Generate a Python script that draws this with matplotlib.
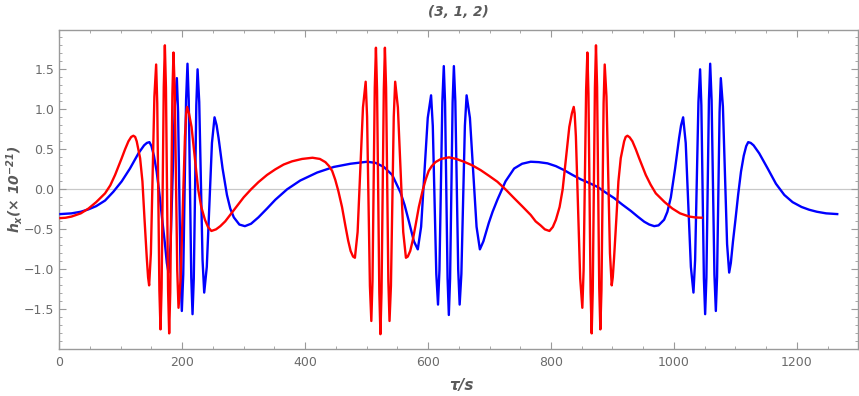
import matplotlib
matplotlib.use("Agg")
import matplotlib.pyplot as plt
from matplotlib.ticker import MultipleLocator, FuncFormatter

# ---------------- data ----------------
red_t = [0, 10, 20, 35, 47.5, 60, 74.5, 83, 90.8, 101.6, 107, 112.5, 117, 120.6, 123.5, 126, 131.5, 135.3, 138.6,
         142.4, 144.5, 146.2, 149.05, 151.9, 154.75, 157.6, 159.4, 161.15, 162.9, 164.7,
         166.5, 168.25, 170.0, 171.8, 173.55, 175.3, 177.05, 178.8, 180.55, 182.3, 184.05,
         185.8, 187.85, 189.9, 191.95, 194, 197.5, 201, 204.5, 206.5, 208, 211, 215.2, 220.5, 226,
         231, 237, 242, 247.5, 255, 262, 270, 278, 290, 300, 312, 324, 338, 351.5, 365,
         378.7, 395, 412, 424, 433, 439, 444, 449, 454, 460, 465.6, 470, 474, 478,
         481, 485.4, 489.75, 494.1, 498.5, 500.8, 503.1, 505.4, 507.7, 509.6, 511.45, 513.3,
         515.2, 517.0, 518.85, 520.7, 522.5, 524.3, 526.15, 528.0, 529.8, 531.7, 533.55,
         535.4, 537.3, 539.6, 541.9, 544.2, 546.5, 550.9, 555.25, 559.6, 564,
         567, 571, 575, 579.4, 585, 591, 596, 601, 606, 612, 621, 634, 646, 658.4, 672,
         685.6, 699, 712.8, 726, 740, 753, 767, 775, 783, 790, 797.5, 803, 808, 814, 819,
         824.5, 829.8, 834, 837, 838.5, 840.5, 844, 847.5, 851, 853.05, 855.1, 857.15, 859.2,
         860.95, 862.7, 864.45, 866.2, 867.95, 869.7, 871.45, 873.2, 875.0, 876.75, 878.5,
         880.3, 882.1, 883.85, 885.6, 887.4, 890.25, 893.1, 895.95, 898.8, 900.5, 902.6,
         906.4, 909.7, 913.5, 919, 921.5, 924.4, 928, 932.5, 938, 943.4, 954.2, 962, 970.5, 985, 997.5, 1010,
         1025, 1036, 1047]
red_h = [-0.36, -0.355, -0.34, -0.30, -0.24, -0.16, -0.05, 0.05, 0.18, 0.39, 0.50, 0.60, 0.655, 0.67, 0.655, 0.60, 0.39, 0.10, -0.36,
         -0.86, -1.10, -1.20, -0.80, 0.18, 1.16, 1.56, 1.075, -0.095, -1.265, -1.75,
         -1.23, 0.025, 1.28, 1.80, 1.27, 0.0, -1.27, -1.80, -1.286, -0.045, 1.196,
         1.71, 1.243, 0.115, -1.013, -1.48, -1.112, -0.225, 0.662, 0.95, 1.03, 0.95, 0.78, 0.40, 0.0,
         -0.22, -0.38, -0.47, -0.52, -0.50, -0.46, -0.40, -0.32, -0.20, -0.10, 0.0, 0.09, 0.18, 0.25, 0.31,
         0.35, 0.38, 0.395, 0.38, 0.34, 0.29, 0.23, 0.12, -0.02, -0.22, -0.46, -0.64, -0.77, -0.84,
         -0.855, -0.533, 0.245, 1.023, 1.345, 0.907, -0.15, -1.207, -1.645, -1.145, 0.06, 1.27,
         1.77, 1.246, -0.02, -1.286, -1.81, -1.286, -0.02, 1.246, 1.77, 1.27, 0.06,
         -1.145, -1.645, -1.207, -0.15, 0.907, 1.345, 1.023, 0.245, -0.533, -0.855,
         -0.84, -0.77, -0.64, -0.46, -0.22, -0.02, 0.12, 0.23, 0.29, 0.34, 0.38, 0.40, 0.38, 0.345, 0.30,
         0.24, 0.17, 0.095, 0.0, -0.11, -0.21, -0.32, -0.40, -0.45, -0.50, -0.52, -0.47, -0.38, -0.22, 0.0,
         0.40, 0.78, 0.95, 1.03, 0.95, 0.662, -0.225, -1.112, -1.48, -1.013, 0.115, 1.243, 1.71,
         1.196, -0.045, -1.286, -1.80, -1.27, 0.0, 1.27, 1.80, 1.28, 0.025, -1.23,
         -1.75, -1.265, -0.095, 1.075, 1.56, 1.16, 0.18, -0.80, -1.20, -1.10, -0.86,
         -0.36, 0.10, 0.39, 0.60, 0.655, 0.67, 0.65, 0.60, 0.50, 0.39, 0.18, 0.06, -0.05, -0.16, -0.24, -0.30,
         -0.34, -0.352, -0.355]

blue_t = [0, 20, 35, 47.5, 60, 74.5, 88, 101.6, 115, 128.8, 138, 142.5, 146.7, 150, 154, 158.5, 163,
          167.5, 171.5, 175, 177.7, 181.1, 184.5, 187.9, 191.3, 193.3, 195.35, 197.4, 199.4,
          201.7, 204.0, 206.3, 208.6, 210.65, 212.7, 214.75, 216.8, 218.85, 220.9, 222.95, 225,
          227.7, 230.4, 233.1, 235.8, 240, 244.2, 248.4, 252.6, 256, 259.2, 265.7, 272.8, 278.2,
          284, 293, 302, 312, 324, 338, 351.5, 370.6, 392, 419.5, 446.6, 473.8, 501, 515, 528,
          541.7, 555.2, 562, 568.8, 577,
          583.3, 588.7, 594.1, 599.5, 604.9, 607.7, 610.55, 613.4, 616.2, 618.55, 620.9, 623.25,
          625.6, 627.65, 629.7, 631.75, 633.8, 635.85, 637.9, 639.95, 642.0, 644.35, 646.7,
          649.05, 651.4, 654.2, 657.05, 659.9, 662.7, 668.1, 673.5, 678.9, 684.3,
          690, 698.8, 705, 712.8, 726, 740, 753, 767, 780, 794.3, 808, 821.4, 835, 848.6, 862,
          875.8, 889, 902.9, 916, 930, 941, 951.8, 960, 968, 975, 984, 989.4, 995, 1001.9,
          1008.4, 1011.6, 1015.0, 1019.2, 1023.4, 1027.6, 1031.8, 1034.5, 1037.2, 1039.9, 1042.6,
          1044.65, 1046.7, 1048.75, 1050.8, 1052.85, 1054.9, 1056.95, 1059.0, 1061.3, 1063.6,
          1065.9, 1068.2, 1070.2, 1072.25, 1074.3, 1076.3, 1079.7, 1083.1, 1086.5, 1089.9,
          1092.6, 1096.1, 1100.1, 1104.6, 1109.1, 1113.6, 1117.6, 1120.9, 1125, 1129.6, 1138.8,
          1152.6, 1166, 1179.6, 1193.1, 1207.6, 1220.1, 1232.6, 1247.6, 1267.6]
blue_h = [-0.31, -0.30, -0.28, -0.25, -0.21, -0.14, -0.03, 0.10, 0.26, 0.45, 0.55, 0.58, 0.59, 0.54, 0.42, 0.22, -0.06,
          -0.38, -0.65, -0.92, -1.04, -0.684, 0.175, 1.034, 1.39, 0.964, -0.065, -1.094, -1.52,
          -1.067, 0.025, 1.117, 1.57, 1.111, 0.005, -1.101, -1.56, -1.112, -0.03, 1.052, 1.50,
          1.091, 0.105, -0.881, -1.29, -0.969, -0.195, 0.579, 0.90, 0.80, 0.64, 0.26, -0.07, -0.24,
          -0.35, -0.44, -0.46, -0.43, -0.35, -0.24, -0.13, 0.0, 0.11, 0.21, 0.28, 0.32, 0.345, 0.33, 0.28,
          0.18, -0.04, -0.20, -0.40, -0.65,
          -0.75, -0.468, 0.21, 0.893, 1.175, 0.792, -0.13, -1.057, -1.44, -1.003, 0.05, 1.103,
          1.54, 1.084, -0.015, -1.114, -1.57, -1.114, -0.015, 1.084, 1.54, 1.103, 0.05,
          -1.003, -1.44, -1.057, -0.13, 0.792, 1.175, 0.893, 0.21, -0.468, -0.75,
          -0.65, -0.42, -0.28, -0.13, 0.10, 0.26, 0.32, 0.345, 0.34, 0.325, 0.29, 0.24, 0.18, 0.125, 0.08,
          0.03, -0.04, -0.11, -0.19, -0.27, -0.34, -0.405, -0.44, -0.46, -0.45, -0.38, -0.28, -0.10, 0.26,
          0.64, 0.80, 0.90, 0.579, -0.195, -0.969, -1.29, -0.881, 0.105, 1.091, 1.50,
          1.052, -0.03, -1.112, -1.56, -1.101, 0.005, 1.111, 1.57, 1.117, 0.025,
          -1.067, -1.52, -1.094, -0.065, 0.964, 1.39, 1.034, 0.175, -0.684, -1.04,
          -0.92, -0.65, -0.38, -0.06, 0.22, 0.42, 0.54, 0.59, 0.58, 0.55, 0.45,
          0.26, 0.07, -0.07, -0.16, -0.22, -0.255, -0.28, -0.30, -0.31]

title_text = "(3, 1, 2)"
x_label = "τ/s"
y_label = r"$h_x(\times\ 10^{-21})$"

# ---------------- styling ----------------
plt.rcParams["mathtext.fontset"] = "custom"
plt.rcParams["mathtext.rm"] = "DejaVu Sans:bold:italic"
plt.rcParams["mathtext.it"] = "DejaVu Sans:bold:italic"
plt.rcParams["mathtext.bf"] = "DejaVu Sans:bold:italic"

frame_col = "#9a9a9a"
text_col = "#6b6b6b"
label_col = "#5a5a5a"

fig = plt.figure(figsize=(8.59, 3.96), dpi=100)
ax = fig.add_axes([0.069, 0.1187, 0.9302, 0.8063])

ax.axhline(0, color="#c8c8c8", lw=0.9, zorder=1)
ax.plot(blue_t, blue_h, color="#0000ff", lw=1.7, zorder=3,
        solid_joinstyle="round", solid_capstyle="butt")
ax.plot(red_t, red_h, color="#ff0000", lw=1.7, zorder=4,
        solid_joinstyle="round", solid_capstyle="butt")

ax.set_xlim(0, 1300)
ax.set_ylim(-1.995, 1.995)

ax.xaxis.set_major_locator(MultipleLocator(200))
ax.xaxis.set_minor_locator(MultipleLocator(50))
ax.yaxis.set_major_locator(MultipleLocator(0.5))
ax.yaxis.set_minor_locator(MultipleLocator(0.1))


def yfmt(v, pos):
    s = f"{v:.1f}"
    if s == "-0.0":
        s = "0.0"
    return s.replace("-", "\u2212")


ax.yaxis.set_major_formatter(FuncFormatter(yfmt))
ax.xaxis.set_major_formatter(FuncFormatter(lambda v, p: f"{int(round(v))}"))

ax.tick_params(which="both", direction="in", top=True, right=True, color=frame_col,
               labelcolor=text_col, labelsize=9)
ax.tick_params(which="major", length=5, width=0.8)
ax.tick_params(which="minor", length=2.5, width=0.6)
ax.tick_params(axis="x", pad=5)
for sp in ax.spines.values():
    sp.set_color(frame_col)
    sp.set_linewidth(1.0)

ax.set_title(title_text, color=label_col, fontsize=9.8, fontweight="bold",
             fontstyle="italic", pad=10)
ax.set_xlabel(x_label, color=label_col, fontsize=11, fontweight="bold",
              fontstyle="italic")
ax.set_ylabel(y_label, color=label_col, fontsize=10)
ax.xaxis.set_label_coords(0.503, -0.09)
ax.yaxis.set_label_coords(-0.043, 0.5)

fig.savefig("out.png", dpi=100)
